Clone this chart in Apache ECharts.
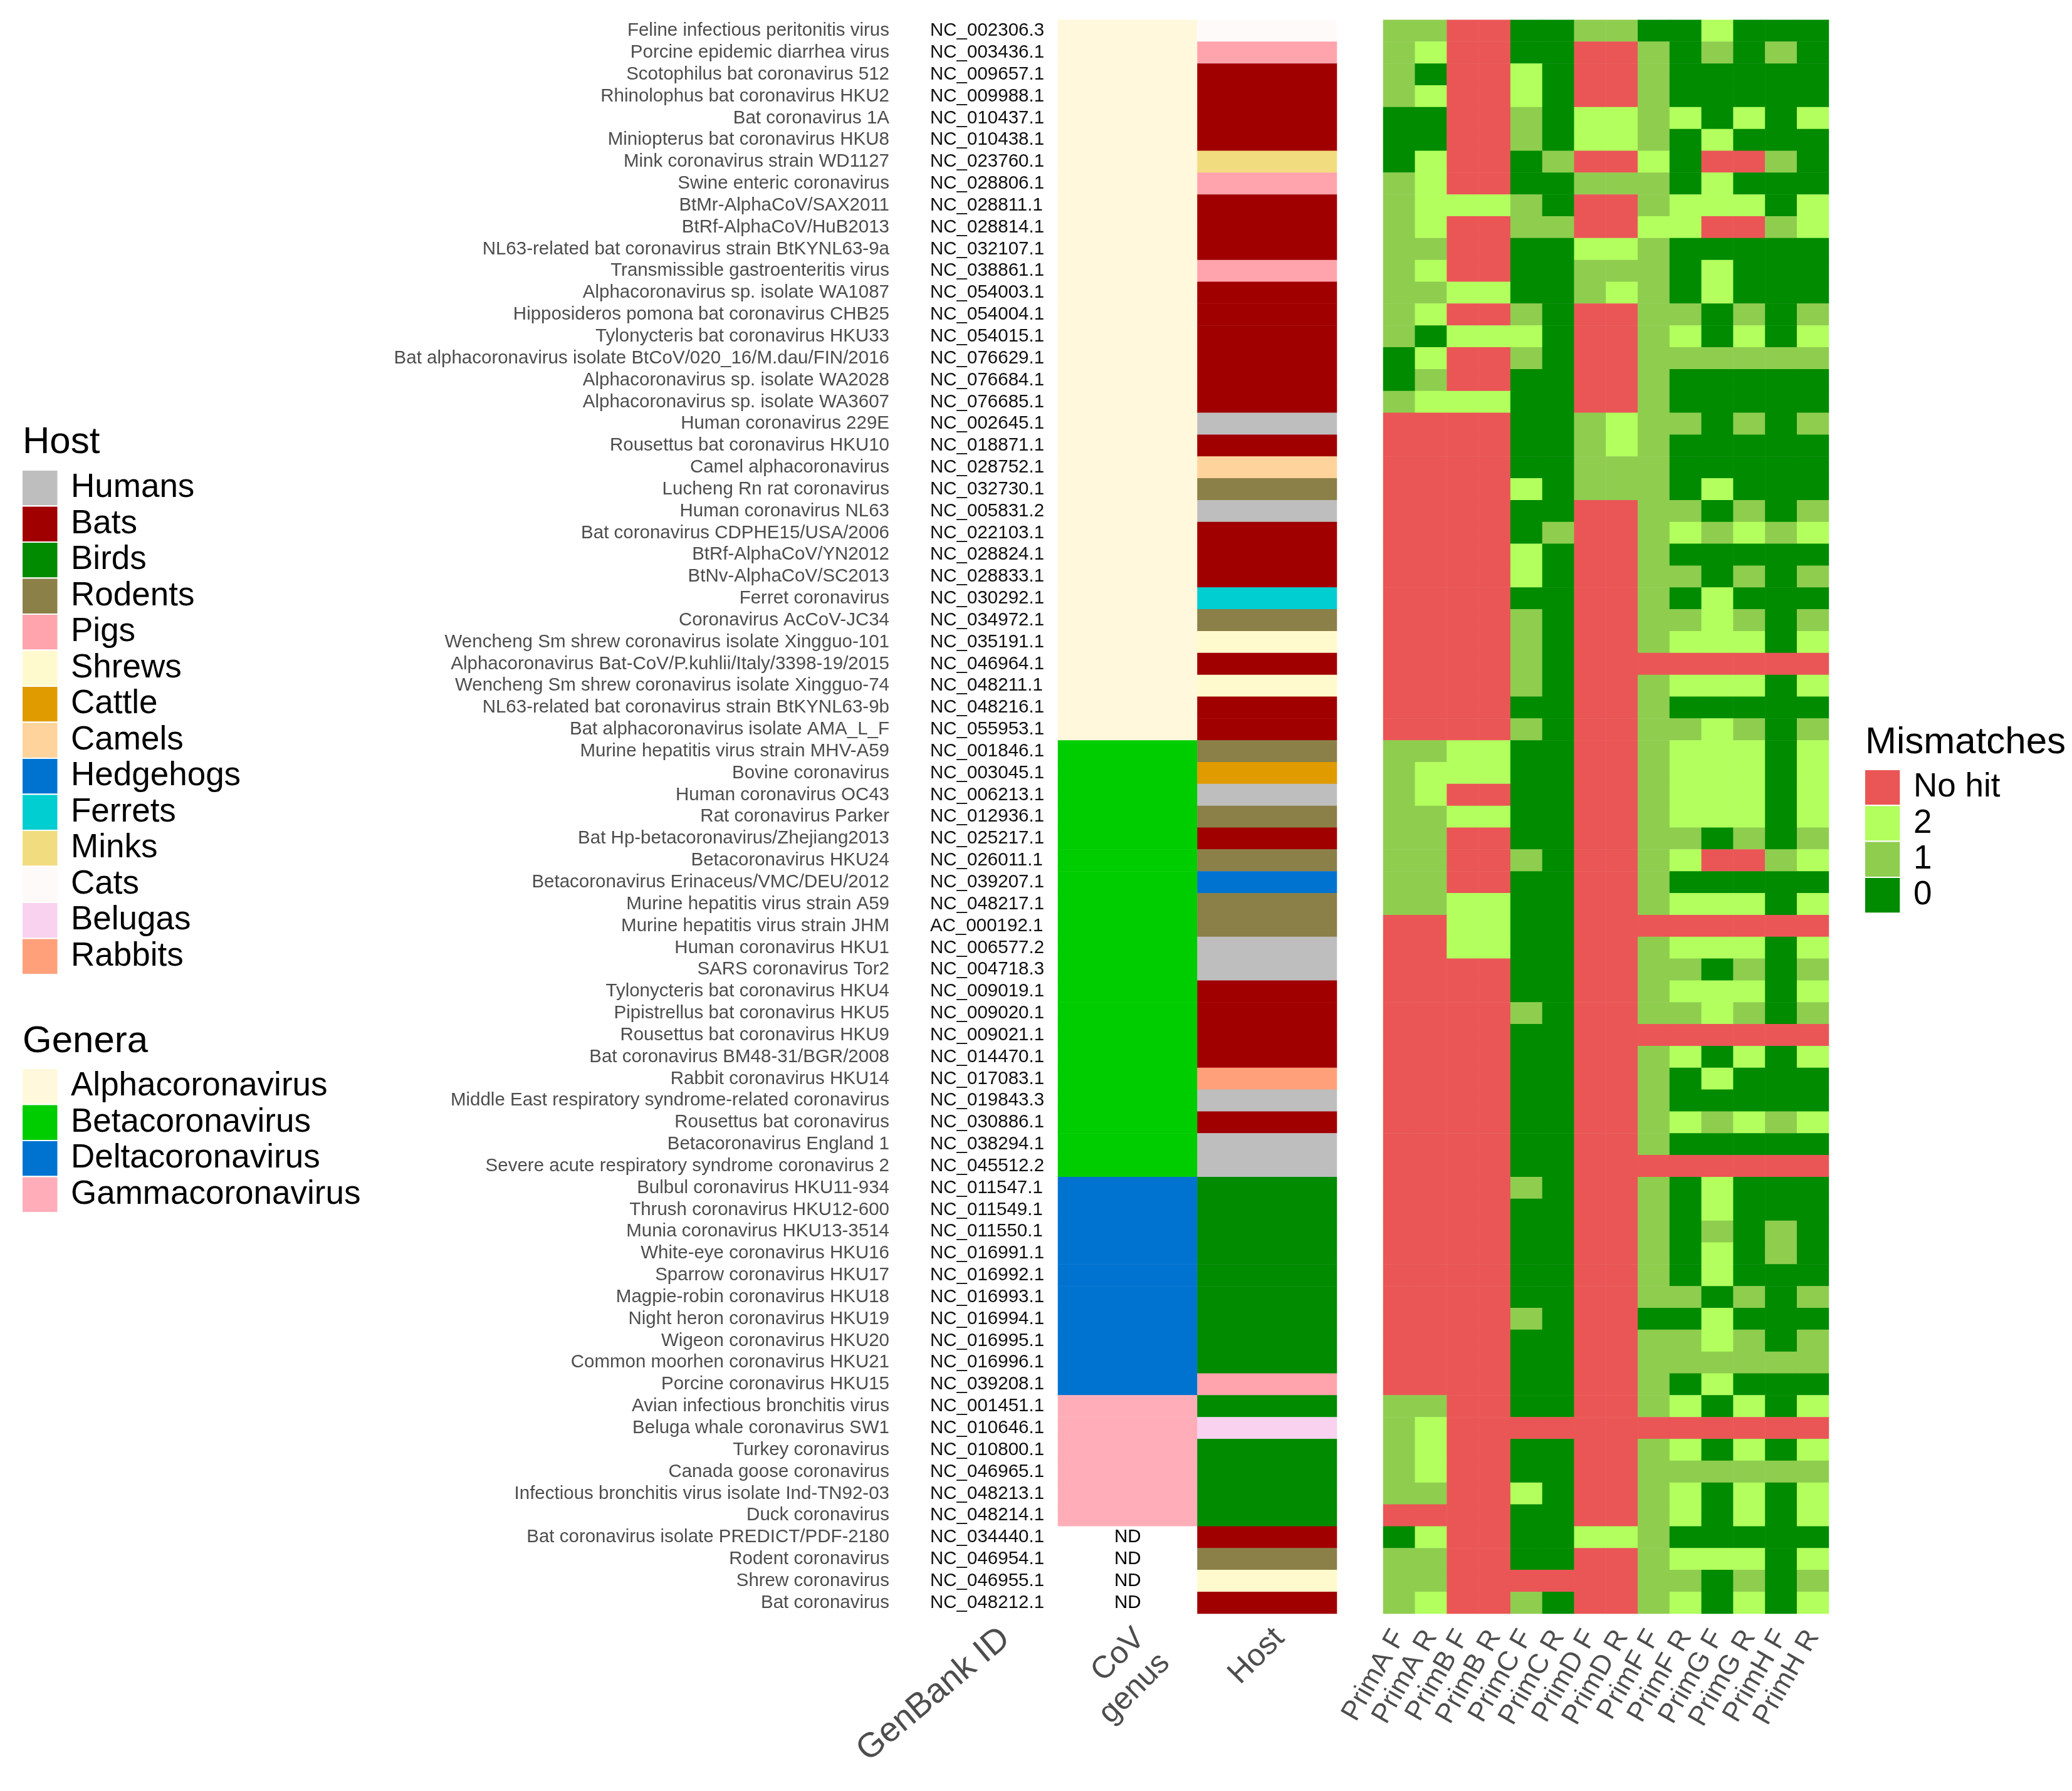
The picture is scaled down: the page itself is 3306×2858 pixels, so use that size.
<!DOCTYPE html>
<html><head><meta charset="utf-8">
<script src="https://cdn.jsdelivr.net/npm/echarts@6/dist/echarts.min.js"></script>
<style>html,body{margin:0;padding:0;background:#fff}#c{width:3306px;height:2858px}</style>
</head><body><div id="c"></div>
<script>
// ---------------- DATA ----------------
const virusNames = [
"Feline infectious peritonitis virus","Porcine epidemic diarrhea virus","Scotophilus bat coronavirus 512","Rhinolophus bat coronavirus HKU2","Bat coronavirus 1A","Miniopterus bat coronavirus HKU8","Mink coronavirus strain WD1127","Swine enteric coronavirus","BtMr-AlphaCoV/SAX2011","BtRf-AlphaCoV/HuB2013","NL63-related bat coronavirus strain BtKYNL63-9a","Transmissible gastroenteritis virus","Alphacoronavirus sp. isolate WA1087","Hipposideros pomona bat coronavirus CHB25","Tylonycteris bat coronavirus HKU33","Bat alphacoronavirus isolate BtCoV/020_16/M.dau/FIN/2016","Alphacoronavirus sp. isolate WA2028","Alphacoronavirus sp. isolate WA3607","Human coronavirus 229E","Rousettus bat coronavirus HKU10","Camel alphacoronavirus","Lucheng Rn rat coronavirus","Human coronavirus NL63","Bat coronavirus CDPHE15/USA/2006","BtRf-AlphaCoV/YN2012","BtNv-AlphaCoV/SC2013","Ferret coronavirus","Coronavirus AcCoV-JC34","Wencheng Sm shrew coronavirus isolate Xingguo-101","Alphacoronavirus Bat-CoV/P.kuhlii/Italy/3398-19/2015","Wencheng Sm shrew coronavirus isolate Xingguo-74","NL63-related bat coronavirus strain BtKYNL63-9b","Bat alphacoronavirus isolate AMA_L_F",
"Murine hepatitis virus strain MHV-A59","Bovine coronavirus","Human coronavirus OC43","Rat coronavirus Parker","Bat Hp-betacoronavirus/Zhejiang2013","Betacoronavirus HKU24","Betacoronavirus Erinaceus/VMC/DEU/2012","Murine hepatitis virus strain A59","Murine hepatitis virus strain JHM","Human coronavirus HKU1","SARS coronavirus Tor2","Tylonycteris bat coronavirus HKU4","Pipistrellus bat coronavirus HKU5","Rousettus bat coronavirus HKU9","Bat coronavirus BM48-31/BGR/2008","Rabbit coronavirus HKU14","Middle East respiratory syndrome-related coronavirus","Rousettus bat coronavirus","Betacoronavirus England 1","Severe acute respiratory syndrome coronavirus 2",
"Bulbul coronavirus HKU11-934","Thrush coronavirus HKU12-600","Munia coronavirus HKU13-3514","White-eye coronavirus HKU16","Sparrow coronavirus HKU17","Magpie-robin coronavirus HKU18","Night heron coronavirus HKU19","Wigeon coronavirus HKU20","Common moorhen coronavirus HKU21","Porcine coronavirus HKU15",
"Avian infectious bronchitis virus","Beluga whale coronavirus SW1","Turkey coronavirus","Canada goose coronavirus","Infectious bronchitis virus isolate Ind-TN92-03","Duck coronavirus",
"Bat coronavirus isolate PREDICT/PDF-2180","Rodent coronavirus","Shrew coronavirus","Bat coronavirus"];

const genbankIds = [
"NC_002306.3","NC_003436.1","NC_009657.1","NC_009988.1","NC_010437.1","NC_010438.1","NC_023760.1","NC_028806.1","NC_028811.1","NC_028814.1","NC_032107.1","NC_038861.1","NC_054003.1","NC_054004.1","NC_054015.1","NC_076629.1","NC_076684.1","NC_076685.1","NC_002645.1","NC_018871.1","NC_028752.1","NC_032730.1","NC_005831.2","NC_022103.1","NC_028824.1","NC_028833.1","NC_030292.1","NC_034972.1","NC_035191.1","NC_046964.1","NC_048211.1","NC_048216.1","NC_055953.1",
"NC_001846.1","NC_003045.1","NC_006213.1","NC_012936.1","NC_025217.1","NC_026011.1","NC_039207.1","NC_048217.1","AC_000192.1","NC_006577.2","NC_004718.3","NC_009019.1","NC_009020.1","NC_009021.1","NC_014470.1","NC_017083.1","NC_019843.3","NC_030886.1","NC_038294.1","NC_045512.2",
"NC_011547.1","NC_011549.1","NC_011550.1","NC_016991.1","NC_016992.1","NC_016993.1","NC_016994.1","NC_016995.1","NC_016996.1","NC_039208.1",
"NC_001451.1","NC_010646.1","NC_010800.1","NC_046965.1","NC_048213.1","NC_048214.1",
"NC_034440.1","NC_046954.1","NC_046955.1","NC_048212.1"];

const genusLevels = ["Alphacoronavirus","Betacoronavirus","Deltacoronavirus","Gammacoronavirus"];
const genusColors = ["#FFF8DC","#00CD00","#0073D1","#FFAEB9"];
const A="Alphacoronavirus", B="Betacoronavirus", D="Deltacoronavirus", G="Gammacoronavirus";
const covGenus = [
A,A,A,A,A,A,A,A,A,A,A,A,A,A,A,A,A,A,A,A,A,A,A,A,A,A,A,A,A,A,A,A,A,
B,B,B,B,B,B,B,B,B,B,B,B,B,B,B,B,B,B,B,B,
D,D,D,D,D,D,D,D,D,D,
G,G,G,G,G,G,
"ND","ND","ND","ND"];

const hostLevels = ["Humans","Bats","Birds","Rodents","Pigs","Shrews","Cattle","Camels","Hedgehogs","Ferrets","Minks","Cats","Belugas","Rabbits"];
const hostColors = ["#BEBEBE","#A00000","#008B00","#8B8048","#FFA4AC","#FFFACD","#DF9B00","#FFD39B","#0073D1","#00CED1","#F2DC80","#FFFAFA","#F8D2EF","#FFA07A"];
const hostPerRow = [
"Cats","Pigs","Bats","Bats","Bats","Bats","Minks","Pigs","Bats","Bats","Bats","Pigs","Bats","Bats","Bats","Bats","Bats","Bats","Humans","Bats","Camels","Rodents","Humans","Bats","Bats","Bats","Ferrets","Rodents","Shrews","Bats","Shrews","Bats","Bats",
"Rodents","Cattle","Humans","Rodents","Bats","Rodents","Hedgehogs","Rodents","Rodents","Humans","Humans","Bats","Bats","Bats","Bats","Rabbits","Humans","Bats","Humans","Humans",
"Birds","Birds","Birds","Birds","Birds","Birds","Birds","Birds","Birds","Pigs",
"Birds","Belugas","Birds","Birds","Birds","Birds",
"Bats","Rodents","Shrews","Bats"];

const idColumnTitle = ["GenBank ID"];
const annotationColumns = ["CoV\ngenus","Host"];
const primers = ["PrimA F","PrimA R","PrimB F","PrimB R","PrimC F","PrimC R","PrimD F","PrimD R","PrimF F","PrimF R","PrimG F","PrimG R","PrimH F","PrimH R"];

const mismatchLevels = ["No hit","2","1","0"];
const mismatchColors = ["#EA5656","#B2FF5E","#8FCD4F","#008B00"];
const N = "No hit";
const mismatches = [
[1,1,N,N,0,0,1,1,0,0,2,0,0,0],
[1,2,N,N,0,0,N,N,1,0,1,0,1,0],
[1,0,N,N,2,0,N,N,1,0,0,0,0,0],
[1,2,N,N,2,0,N,N,1,0,0,0,0,0],
[0,0,N,N,1,0,2,2,1,2,0,2,0,2],
[0,0,N,N,1,0,2,2,1,0,2,0,0,0],
[0,2,N,N,0,1,N,N,2,0,N,N,1,0],
[1,2,N,N,0,0,1,1,1,0,2,0,0,0],
[1,2,2,2,1,0,N,N,1,2,2,2,0,2],
[1,2,N,N,1,1,N,N,2,2,N,N,1,2],
[1,1,N,N,0,0,2,2,1,0,0,0,0,0],
[1,2,N,N,0,0,1,1,1,0,2,0,0,0],
[1,1,2,2,0,0,1,2,1,0,2,0,0,0],
[1,2,N,N,1,0,N,N,1,1,0,1,0,1],
[1,0,2,2,2,0,N,N,1,2,0,2,0,2],
[0,2,N,N,1,0,N,N,1,1,1,1,1,1],
[0,1,N,N,0,0,N,N,1,0,0,0,0,0],
[1,2,2,2,0,0,N,N,1,0,0,0,0,0],
[N,N,N,N,0,0,1,2,1,1,0,1,0,1],
[N,N,N,N,0,0,1,2,1,0,0,0,0,0],
[N,N,N,N,0,0,1,1,1,0,0,0,0,0],
[N,N,N,N,2,0,1,1,1,0,2,0,0,0],
[N,N,N,N,0,0,N,N,1,1,0,1,0,1],
[N,N,N,N,0,1,N,N,1,2,1,2,1,2],
[N,N,N,N,2,0,N,N,1,0,0,0,0,0],
[N,N,N,N,2,0,N,N,1,1,0,1,0,1],
[N,N,N,N,0,0,N,N,1,0,2,0,0,0],
[N,N,N,N,1,0,N,N,1,1,2,1,0,1],
[N,N,N,N,1,0,N,N,1,2,2,2,0,2],
[N,N,N,N,1,0,N,N,N,N,N,N,N,N],
[N,N,N,N,1,0,N,N,1,2,2,2,0,2],
[N,N,N,N,0,0,N,N,1,0,0,0,0,0],
[N,N,N,N,1,0,N,N,1,1,2,1,0,1],
[1,1,2,2,0,0,N,N,1,2,2,2,0,2],
[1,2,2,2,0,0,N,N,1,2,2,2,0,2],
[1,2,N,N,0,0,N,N,1,2,2,2,0,2],
[1,1,2,2,0,0,N,N,1,2,2,2,0,2],
[1,1,N,N,0,0,N,N,1,1,0,1,0,1],
[1,1,N,N,1,0,N,N,1,2,N,N,1,2],
[1,1,N,N,0,0,N,N,1,0,0,0,0,0],
[1,1,2,2,0,0,N,N,1,2,2,2,0,2],
[N,N,2,2,0,0,N,N,N,N,N,N,N,N],
[N,N,2,2,0,0,N,N,1,2,2,2,0,2],
[N,N,N,N,0,0,N,N,1,1,0,1,0,1],
[N,N,N,N,0,0,N,N,1,2,2,2,0,2],
[N,N,N,N,1,0,N,N,1,1,2,1,0,1],
[N,N,N,N,0,0,N,N,N,N,N,N,N,N],
[N,N,N,N,0,0,N,N,1,2,0,2,0,2],
[N,N,N,N,0,0,N,N,1,0,2,0,0,0],
[N,N,N,N,0,0,N,N,1,0,0,0,0,0],
[N,N,N,N,0,0,N,N,1,2,1,2,1,2],
[N,N,N,N,0,0,N,N,1,0,0,0,0,0],
[N,N,N,N,0,0,N,N,N,N,N,N,N,N],
[N,N,N,N,1,0,N,N,1,0,2,0,0,0],
[N,N,N,N,0,0,N,N,1,0,2,0,0,0],
[N,N,N,N,0,0,N,N,1,0,1,0,1,0],
[N,N,N,N,0,0,N,N,1,0,2,0,1,0],
[N,N,N,N,0,0,N,N,1,0,2,0,0,0],
[N,N,N,N,0,0,N,N,1,1,0,1,0,1],
[N,N,N,N,1,0,N,N,0,0,2,0,0,0],
[N,N,N,N,0,0,N,N,1,1,2,1,0,1],
[N,N,N,N,0,0,N,N,1,1,1,1,1,1],
[N,N,N,N,0,0,N,N,1,0,2,0,0,0],
[1,1,N,N,0,0,N,N,1,2,0,2,0,2],
[1,2,N,N,N,N,N,N,N,N,N,N,N,N],
[1,2,N,N,0,0,N,N,1,2,0,2,0,2],
[1,2,N,N,0,0,N,N,1,1,1,1,1,1],
[1,1,N,N,2,0,N,N,1,2,0,2,0,2],
[N,N,N,N,0,0,N,N,1,2,0,2,0,2],
[0,2,N,N,0,0,2,2,1,0,0,0,0,0],
[1,1,N,N,0,0,N,N,1,2,2,2,0,2],
[1,1,N,N,N,N,N,N,1,1,0,1,0,1],
[1,2,N,N,1,0,N,N,1,2,0,2,0,2]];

// ---------------- BUILD ----------------
const FONT = '"Liberation Sans", Arial, Helvetica, sans-serif';
const rowIdx = virusNames.map((_, i) => i);

const annotData = [];
covGenus.forEach((g, i) => {
  const k = genusLevels.indexOf(g);
  if (k >= 0) annotData.push([0, i, k]);
  else annotData.push({value: [0, i, 99], label: {show: true, formatter: g, color: '#000', fontSize: 29.5, fontFamily: FONT}});
});
hostPerRow.forEach((h, i) => annotData.push([1, i, 10 + hostLevels.indexOf(h)]));

const heatData = [];
mismatches.forEach((row, i) => row.forEach((v, j) => {
  heatData.push([j, i, mismatchLevels.indexOf(String(v))]);
}));

const annotPieces = genusColors.map((c, k) => ({value: k, color: c}))
  .concat(hostColors.map((c, k) => ({value: 10 + k, color: c})))
  .concat([{value: 99, color: '#ffffff'}]);
const heatPieces = mismatchColors.map((c, k) => ({value: k, color: c}));

// legends (graphic)
const graphics = [];
function addLegend(title, levels, colors, x, titleMid, firstTop, step) {
  graphics.push({type: 'text', x: x + 1, y: titleMid, style: {text: title, font: '60px ' + FONT, fill: '#000', verticalAlign: 'middle', align: 'left'}});
  levels.forEach((lv, k) => {
    const top = firstTop + step * k;
    graphics.push({type: 'rect', shape: {x: x, y: top, width: step, height: step}, style: {fill: colors[k], stroke: '#ffffff', lineWidth: 2}});
    graphics.push({type: 'text', x: x + 78, y: top + step / 2, style: {text: lv, font: '53px ' + FONT, fill: '#000', verticalAlign: 'middle', align: 'left'}});
  });
}
addLegend('Host', hostLevels, hostColors, 35, 706, 750, 57.5);
addLegend('Genera', genusLevels, genusColors, 35, 1662, 1705, 57.5);
addLegend('Mismatches', mismatchLevels, mismatchColors, 2975, 1185, 1228, 57.3);

const TOP = 31.7, BOTTOM = 2858 - 2575;
const hiddenAxis = {axisLine: {show: false}, axisTick: {show: false}, splitLine: {show: false}};

const option = {
  backgroundColor: '#ffffff',
  animation: false,
  textStyle: {fontFamily: FONT},
  grid: [
    {left: 1688, width: 445, top: TOP, bottom: BOTTOM, containLabel: false},
    {left: 2207, width: 711, top: TOP, bottom: BOTTOM, containLabel: false},
    {left: 1537, width: 100, top: TOP, bottom: BOTTOM, containLabel: false}
  ],
  xAxis: [
    Object.assign({type: 'category', gridIndex: 0, data: annotationColumns, position: 'bottom',
     axisLabel: {interval: 0, rotate: 45, fontSize: 50, color: '#4D4D4D', margin: 12, fontFamily: FONT, lineHeight: 56, verticalAlign: 'top'}}, hiddenAxis),
    Object.assign({type: 'category', gridIndex: 1, data: primers, position: 'bottom',
     axisLabel: {interval: 0, rotate: 60, fontSize: 44, color: '#4D4D4D', margin: 30, fontFamily: FONT}}, hiddenAxis),
    Object.assign({type: 'category', gridIndex: 2, data: idColumnTitle, position: 'bottom',
     axisLabel: {interval: 0, rotate: 40, fontSize: 55, color: '#4D4D4D', margin: 12, fontFamily: FONT, verticalAlign: 'top'}}, hiddenAxis)
  ],
  yAxis: [
    Object.assign({type: 'category', gridIndex: 0, data: virusNames, inverse: true, position: 'left',
     axisLabel: {interval: 0, fontSize: 29.5, color: '#4D4D4D', margin: 269, fontFamily: FONT}}, hiddenAxis),
    Object.assign({type: 'category', gridIndex: 0, data: genbankIds, inverse: true, position: 'left',
     axisLabel: {interval: 0, align: 'left', fontSize: 29.5, color: '#111111', margin: 204, fontFamily: FONT}}, hiddenAxis),
    Object.assign({type: 'category', gridIndex: 1, data: rowIdx, inverse: true, axisLabel: {show: false}}, hiddenAxis),
    Object.assign({type: 'category', gridIndex: 2, data: rowIdx, inverse: true, axisLabel: {show: false}}, hiddenAxis)
  ],
  visualMap: [
    {type: 'piecewise', show: false, seriesIndex: 0, dimension: 2, pieces: annotPieces},
    {type: 'piecewise', show: false, seriesIndex: 1, dimension: 2, pieces: heatPieces}
  ],
  series: [
    {type: 'heatmap', xAxisIndex: 0, yAxisIndex: 0, data: annotData, label: {show: false},
     itemStyle: {borderWidth: 0}, emphasis: {disabled: true}},
    {type: 'heatmap', xAxisIndex: 1, yAxisIndex: 2, data: heatData, label: {show: false},
     itemStyle: {borderWidth: 0}, emphasis: {disabled: true}}
  ],
  graphic: graphics
};

const chart = echarts.init(document.getElementById('c'), null, {renderer: 'canvas'});
chart.setOption(option);
</script>
</body></html>
